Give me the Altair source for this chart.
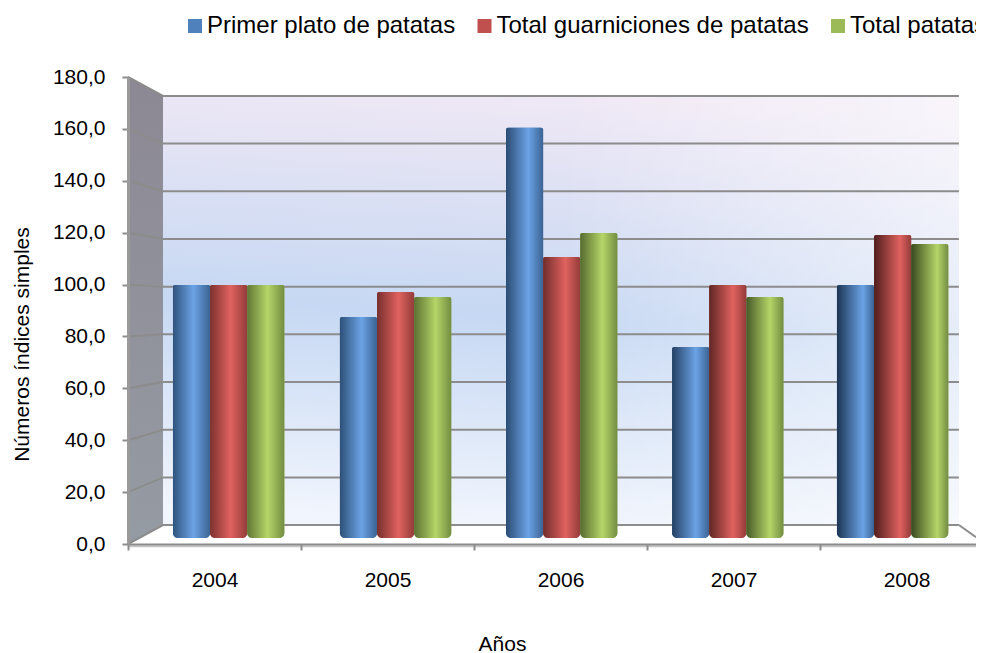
import altair as alt
import pandas as pd

years = [2004, 2005, 2006, 2007, 2008]
series = ["Primer plato de patatas", "Total guarniciones de patatas", "Total patatas"]
primer = [99.8, 87.5, 160.4, 75.9, 99.8]
guarn = [99.8, 97.1, 110.6, 99.8, 119.1]
total = [99.8, 95.2, 119.9, 95.2, 115.6]
colors = ["#4F81BD", "#C0504D", "#9BBB59"]
edges = ["#1c3553", "#4f1e1d", "#38491f"]
peaks = ["#6ba3e6", "#e0625f", "#b5d568"]
ticks = [0, 20, 40, 60, 80, 100, 120, 140, 160, 180]

# position of each year's cluster on the category axis (perspective shifts them)
cluster_left = [0.260, 1.225, 2.185, 3.145, 4.098]
bar_w = 0.2145
bar_base = 2.3
# strength of the left-edge shading of the cylinders per year
left_dark = [0.6, 0.65, 0.7, 0.85, 1.0]
peak_pos = [0.55, 0.58, 0.60, 0.64, 0.70]

# 3D box geometry in data units
XMAX = 848 / 173
WALL_X0 = 0.2023
WALL_X1 = 4.803
WALL_Y0 = 7.3
WALL_Y1 = 172.7


def back(t):
    return WALL_Y0 + t * (WALL_Y1 - WALL_Y0) / 180


def mix(a, b, f):
    ca = [int(a[i:i + 2], 16) for i in (1, 3, 5)]
    cb = [int(b[i:i + 2], 16) for i in (1, 3, 5)]
    return "#" + "".join(f"{round(p + (q - p) * f):02x}" for p, q in zip(ca, cb))


xs = alt.Scale(domain=[0, XMAX], nice=False, zero=False)
ys = alt.Scale(domain=[0, 180], nice=False, zero=False)
x_axis = alt.Axis(
    values=[0, 1, 2, 3, 4], labelExpr="'' + (2004 + datum.value)", labelOffset=86.5,
    labelFontSize=21, labelFont="Liberation Sans", labelColor="black", labelPadding=19,
    labelFlush=False, labelBound=False, labelOverlap=False, grid=False,
    tickSize=6, tickColor="#8c8c8c", tickWidth=2, domainColor="#8c8c8c", domainWidth=2,
    title="Años", titleFont="Liberation Sans", titleFontSize=21, titleFontWeight="normal",
    titleColor="black", titleX=374, titleY=106, titleBaseline="alphabetic", zindex=1,
)
y_axis = alt.Axis(
    values=ticks, labelExpr="replace(format(datum.value, '.1f'), '.', ',')",
    labelFontSize=21, labelFont="Liberation Sans", labelColor="black", labelPadding=17,
    labelOverlap=False, labelBound=False, labelFlush=False, grid=False,
    tickSize=6, tickColor="#8c8c8c", tickWidth=2, domainColor="#9a9a9a", domainWidth=3,
    title="Números índices simples", titleFont="Liberation Sans", titleFontSize=21,
    titleFontWeight="normal", titleColor="black", titleAngle=-90,
    titleX=-100, titleY=267, titleBaseline="alphabetic", zindex=1,
)
X = alt.X("x:Q", scale=xs, axis=x_axis)
Y = alt.Y("y:Q", scale=ys, axis=y_axis)
X2 = alt.X2("x2:Q")
Y2 = alt.Y2("y2:Q")

# walls
wall = pd.DataFrame({"x": [WALL_X0], "x2": [WALL_X1], "y": [WALL_Y1], "y2": [WALL_Y0]})
wall_layer = alt.Chart(wall).mark_rect(
    color=alt.LinearGradient(
        gradient="linear", x1=0.55, y1=0, x2=0.45, y2=1,
        stops=[alt.GradientStop(offset=0, color="#f0e8f5"),
               alt.GradientStop(offset=0.52, color="#c6d8f3"),
               alt.GradientStop(offset=1, color="#f1f5fd")],
    )
).encode(x=X, x2=X2, y=Y, y2=Y2)
wall_sheen = alt.Chart(wall).mark_rect(
    color=alt.LinearGradient(
        gradient="linear", x1=0, y1=0, x2=1, y2=0,
        stops=[alt.GradientStop(offset=0, color="rgba(255,255,255,0)"),
               alt.GradientStop(offset=0.5, color="rgba(255,255,255,0)"),
               alt.GradientStop(offset=1, color="rgba(255,255,255,0.55)")],
    )
).encode(x=X, x2=X2, y=Y, y2=Y2)

side = pd.DataFrame({"x": [0, WALL_X0], "y": [180, WALL_Y1], "y2": [0, WALL_Y0]})
side_layer = alt.Chart(side).mark_area(
    color=alt.LinearGradient(
        gradient="linear", x1=0, y1=0, x2=0, y2=1,
        stops=[alt.GradientStop(offset=0, color="#8c8894"),
               alt.GradientStop(offset=1, color="#959ba3")],
    )
).encode(x=X, y=Y, y2=Y2)

# gridlines: along the side wall, then along the back wall
rows = []
for t in ticks:
    rows += [{"x": 0, "y": t, "t": t}, {"x": WALL_X0, "y": back(t), "t": t},
             {"x": WALL_X1, "y": back(t), "t": t}]
grid_layer = alt.Chart(pd.DataFrame(rows)).mark_line(color="#8c8c8c", strokeWidth=2).encode(
    x=X, y=Y, detail="t:N", order="x:Q"
)
floor_edge = pd.DataFrame({"x": [WALL_X1, XMAX], "y": [WALL_Y0, 2.6]})
floor_layer = alt.Chart(floor_edge).mark_line(color="#8c8c8c", strokeWidth=2).encode(x=X, y=Y)
shadow = pd.DataFrame({"x": [0, XMAX], "y": [-0.9, -0.9]})
shadow_layer = alt.Chart(shadow).mark_line(color="#c4c4c4", strokeWidth=2).encode(x=X, y=Y)

# bars
bars = []
for s_i, (name, vals) in enumerate(zip(series, [primer, guarn, total])):
    for y_i, v in enumerate(vals):
        left = cluster_left[y_i] + s_i * bar_w
        bars.append({"year": years[y_i], "serie": name, "s": s_i, "yi": y_i, "x": left,
                     "x2": left + bar_w, "y": v, "y2": bar_base})
bars = pd.DataFrame(bars)
corner = dict(cornerRadiusTopLeft=2, cornerRadiusTopRight=2,
              cornerRadiusBottomLeft=5, cornerRadiusBottomRight=5)
bar_layer = alt.Chart(bars).mark_rect(**corner).encode(
    x=X, x2=X2, y=Y, y2=Y2,
    color=alt.Color(
        "serie:N",
        scale=alt.Scale(domain=series, range=colors),
        legend=alt.Legend(
            orient="none", legendX=55, legendY=-63, direction="horizontal", columns=3,
            title=None, labelFontSize=24, labelFont="Liberation Sans", labelColor="black",
            labelLimit=600, symbolType="square", symbolSize=196, symbolStrokeWidth=0,
            symbolOpacity=1, columnPadding=16.5, labelOffset=0,
        ),
    ),
)
shades = []
for s_i in range(3):
    for y_i in range(5):
        mid, edge, peak = colors[s_i], edges[s_i], peaks[s_i]
        shade = alt.LinearGradient(
            gradient="linear", x1=0, y1=0, x2=1, y2=0,
            stops=[
                alt.GradientStop(offset=0, color=mix(mid, edge, left_dark[y_i])),
                alt.GradientStop(offset=peak_pos[y_i], color=peak),
                alt.GradientStop(offset=1, color=mix(mid, edge, 0.4)),
            ],
        )
        shades.append(
            alt.Chart(bars[(bars["s"] == s_i) & (bars["yi"] == y_i)])
            .mark_rect(color=shade, **corner)
            .encode(x=X, x2=X2, y=Y, y2=Y2)
        )

chart = alt.layer(
    wall_layer, wall_sheen, side_layer, grid_layer, floor_layer, shadow_layer, bar_layer, *shades
).properties(
    width=848, height=467,
    autosize=alt.AutoSizeParams(type="none"),
    padding={"left": 120, "top": 69, "right": 0, "bottom": 109},
).configure_view(stroke=None).resolve_scale(x="shared", y="shared")

chart.save("out.html", embed_options={"renderer": "svg", "actions": False})
